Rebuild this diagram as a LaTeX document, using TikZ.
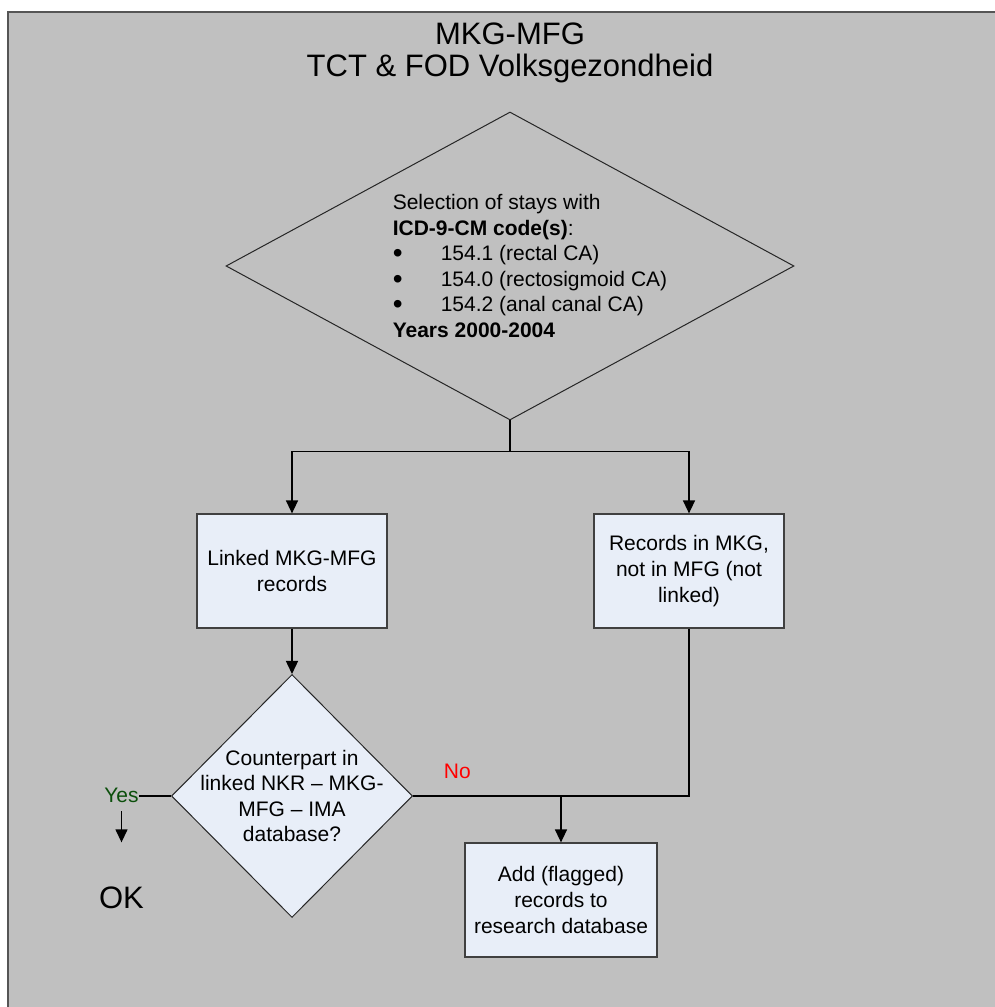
\documentclass[tikz,border=0pt]{standalone}
\usepackage{fontspec}
\setmainfont{Liberation Sans}
\usetikzlibrary{shapes.geometric,arrows.meta,positioning}

\definecolor{sheetgray}{HTML}{C0C0C0}
\definecolor{boxblue}{HTML}{E8EEF8}
\definecolor{yesgreen}{HTML}{0B4F0B}
\definecolor{framegray}{HTML}{555555}

\newcommand{\selbullet}{\makebox[48pt][l]{\raisebox{-2pt}{\fontsize{28}{25.6}\selectfont\textbullet}}}

\tikzset{
  stepbox/.style={rectangle, draw=black!75, line width=1.2pt, fill=boxblue,
    minimum width=190pt, minimum height=114pt, align=center, inner sep=0pt},
  choice/.style={diamond, draw=black!85, line width=1pt, inner sep=0pt},
  plain/.style={inner sep=0pt},
}

\begin{document}
\begin{tikzpicture}[x=1pt, y=1pt, font=\fontsize{21}{25.6}\selectfont,
    >={Triangle[length=13pt,width=12pt]}, line width=1.4pt]
  \useasboundingbox (0,0) rectangle (995,1007);
  \fill[white] (0,0) rectangle (995,1007);
  \fill[sheetgray] (8,0) rectangle (995,995);
  \draw[framegray, line width=1.5pt] (8,0) -- (8,995) -- (995,995);

  \node[plain, align=center, font=\fontsize{31}{32}\selectfont] (title) at (510,954) {MKG-MFG\\TCT \& FOD Volksgezondheid};

  \node[choice, minimum width=568pt, minimum height=308pt] (sel) at (510,741) {};
  \node[plain, align=left] (seltext) at ([xshift=20pt]sel.center) {Selection of stays with\\
    \textbf{ICD-9-CM code(s)}:\\
    \selbullet 154.1 (rectal CA)\\
    \selbullet 154.0 (rectosigmoid CA)\\
    \selbullet 154.2 (anal canal CA)\\
    \textbf{Years 2000-2004}};

  \node[stepbox] (linked) at (292,436) {Linked MKG-MFG\\records};
  \node[stepbox] (notlinked) [right of=linked, node distance=397pt] {Records in MKG,\\not in MFG (not\\linked)};
  \node[choice, fill=boxblue, minimum width=241pt, minimum height=243pt] (check) [below of=linked, node distance=225pt] {};
  \node[plain, align=center] (checktext) at (check.center) {Counterpart in\\linked NKR – MKG-\\MFG – IMA\\database?};
  \node[stepbox, minimum width=192pt] (add) at (561,107) {Add (flagged)\\records to\\research database};

  \node[plain, text=yesgreen] (yes) at (121.5,211.7) {Yes};
  \node[plain, font=\fontsize{31}{32}\selectfont] (ok) at (121.5,109) {OK};

  \coordinate (split) at ([yshift=-31pt]sel.south);
  \coordinate (join) at (add.north |- check.east);

  \draw (sel.south) -- (split);
  \draw[->] (split) -| (linked.north);
  \draw[->] (split) -| (notlinked.north);
  \draw[->] (linked.south) -- (check.north);
  \draw (check.west) -- (check.west -| yes.east);
  \draw[->] ([yshift=-8pt]yes.south) -- ([yshift=44pt]ok.north);
  \draw (check.east) -- node[pos=0.3, anchor=south, yshift=17pt, inner sep=0pt, text=red] (no) {No} (join);
  \draw (notlinked.south) |- (join);
  \draw[->] (join) -- (add.north);
\end{tikzpicture}
\end{document}
